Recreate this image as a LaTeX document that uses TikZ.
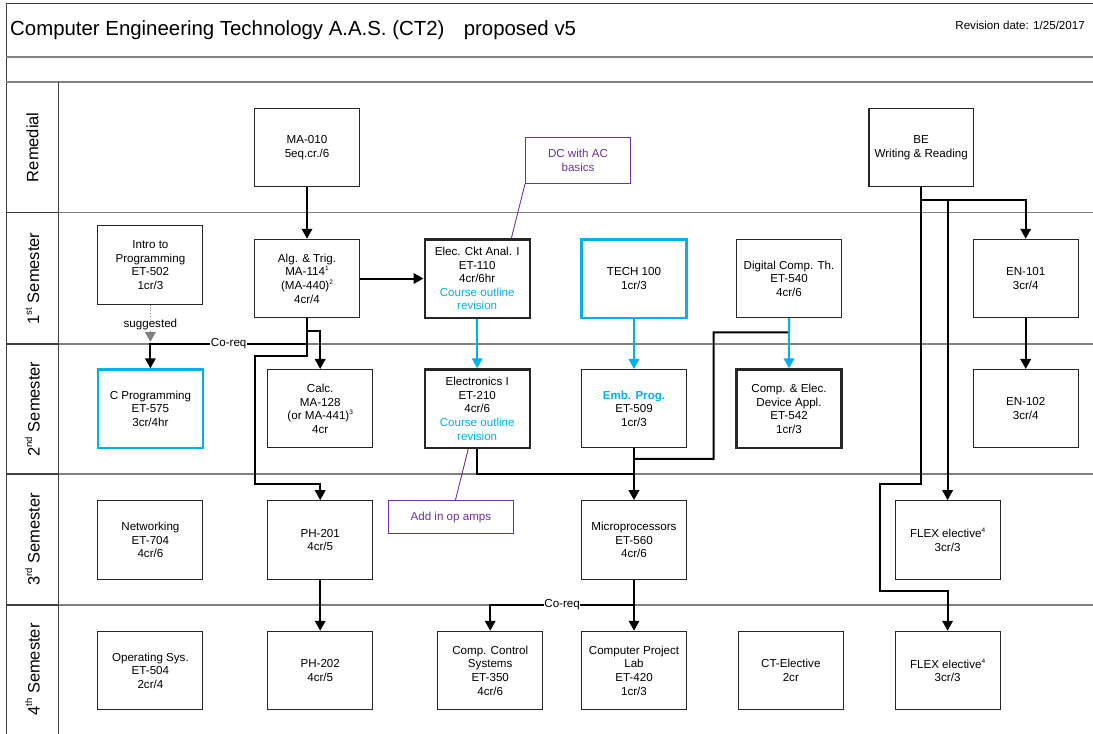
\documentclass[tikz,border=0pt]{standalone}
\usepackage{fontspec}
\setmainfont{Liberation Sans}
\usetikzlibrary{arrows.meta,calc}
\definecolor{cblue}{RGB}{0,176,240}
\definecolor{cpurple}{RGB}{112,48,160}
\definecolor{lanegray}{RGB}{128,128,128}
\newcommand\bxf{\fontsize{11.6}{13.6}\selectfont}
\newcommand\lanef{\fontsize{16.5}{18}\selectfont}
\newcommand\sups[1]{\raisebox{0.42em}{\fontsize{6.5}{7}\selectfont #1}}
\newcommand\lsups[1]{\raisebox{0.45em}{\fontsize{9.5}{10}\selectfont #1}}
\begin{document}
\begin{tikzpicture}[x=1pt,y=-1pt,
  box/.style={draw=black!85,line width=1.1pt,minimum width=105pt,minimum height=78.4pt,
    align=center,font=\bxf,inner sep=1pt},
  thickbox/.style={box,line width=2.4pt},
  bluebox/.style={box,draw=cblue,line width=2.4pt},
  notebox/.style={draw=cpurple,line width=0.9pt,text=cpurple,align=center,font=\bxf,inner sep=1pt},
  conn/.style={draw=black,line width=2pt,-{Triangle[width=10.5pt,length=10pt]}},
  bconn/.style={draw=cblue,line width=2pt,-{Triangle[width=10.5pt,length=10pt]}},
  plain/.style={draw=black,line width=2pt},
  coreqlbl/.style={fill=white,font=\bxf,inner sep=0.6pt},
  lanelbl/.style={rotate=90,font=\lanef},
  laneline/.style={draw=lanegray,line width=1.3pt},
  frameline/.style={draw=black!75,line width=1.2pt}
]
\useasboundingbox (0,0) rectangle (1093,734);
\fill[white] (0,0) rectangle (1093,734);

% ---------- frame / header ----------
\draw[frameline] (6.3,734) -- (6.3,3.3) -- (1093,3.3);
\draw[laneline,line width=2pt] (6.3,57) -- (1093,57);
\draw[laneline,line width=2pt] (6.3,81.7) -- (1093,81.7);
\draw[frameline] (58.6,81.7) -- (58.6,734);
\foreach \yy in {212.7,344,474,605}{
  \draw[frameline] (6.3,\yy) -- (58.6,\yy);
  \draw[laneline] (58.6,\yy) -- (1093,\yy);
}
\node[anchor=west,font=\fontsize{20.4}{22}\selectfont,inner sep=0pt] (title) at (10,30)
  {Computer Engineering Technology A.A.S. (CT2)\hspace{0.95em}proposed v5};
\node[anchor=east,font=\bxf,inner sep=0pt] (rev) at (1085,25.5) {Revision date: 1/25/2017};

% ---------- lane labels ----------
\node[lanelbl] (lrem) at (32.5,147.2) {Remedial};
\node[lanelbl] (l1) at (32.5,278.4) {1\lsups{st} Semester};
\node[lanelbl] (l2) at (32.5,409) {2\lsups{nd} Semester};
\node[lanelbl] (l3) at (32.5,539.5) {3\lsups{rd} Semester};
\node[lanelbl] (l4) at (32.5,669.5) {4\lsups{th} Semester};

% ---------- Remedial ----------
\node[box] (ma010) at (307,147.5) {MA-010\\5eq.cr./6};
\node[box,minimum width=104.5pt] (be) at (921.2,147.5) {BE\\Writing \& Reading};
\node[notebox,minimum width=105pt,minimum height=46pt] (dc) at (578,160.3) {DC with AC\\basics};

% ---------- 1st semester ----------
\node[box] (intro) at (150.4,265) {Intro to\\Programming\\ET-502\\1cr/3};
\node[box] (alg) at (307,278.5) {Alg. \& Trig.\\MA-114\sups{1}\\(MA-440)\sups{2}\\4cr/4};
\node[thickbox] (elec) at (477.2,278.5) {Elec. Ckt Anal. I\\ET-110\\4cr/6hr\\\textcolor{cblue}{Course outline}\\\textcolor{cblue}{revision}};
\node[bluebox] (tech) at (634,278.5) {TECH 100\\1cr/3};
\node[box] (dig) at (789,278.5) {Digital Comp. Th.\\ET-540\\4cr/6};
\node[box] (en101) at (1025.7,278.5) {EN-101\\3cr/4};

% ---------- 2nd semester ----------
\node[bluebox] (cprog) at (150.4,408.7) {C Programming\\ET-575\\3cr/4hr};
\node[box] (calc) at (320.2,408.7) {Calc.\\MA-128\\(or MA-441)\sups{3}\\4cr};
\node[thickbox] (elecI) at (477.2,408.7) {Electronics I\\ET-210\\4cr/6\\\textcolor{cblue}{Course outline}\\\textcolor{cblue}{revision}};
\node[box] (emb) at (634,408.7) {\textcolor{cblue}{\bfseries Emb. Prog.}\\ET-509\\1cr/3};
\node[thickbox] (cea) at (789,408.7) {Comp. \& Elec.\\Device Appl.\\ET-542\\1cr/3};
\node[box] (en102) at (1025.7,408.7) {EN-102\\3cr/4};

% ---------- 3rd semester ----------
\node[box] (net) at (150.4,539.9) {Networking\\ET-704\\4cr/6};
\node[box] (ph201) at (320.2,539.9) {PH-201\\4cr/5};
\node[notebox,minimum width=125pt,minimum height=32.6pt] (opamps) at (450.9,517) {Add in op amps};
\node[box] (micro) at (634,539.9) {Microprocessors\\ET-560\\4cr/6};
\node[box] (flex3) at (947.6,539.9) {FLEX elective\sups{4}\\3cr/3};

% ---------- 4th semester ----------
\node[box] (os) at (150.4,670.5) {Operating Sys.\\ET-504\\2cr/4};
\node[box] (ph202) at (320.2,670.5) {PH-202\\4cr/5};
\node[box] (ccs) at (490.2,670.5) {Comp. Control\\Systems\\ET-350\\4cr/6};
\node[box] (cpl) at (634,670.5) {Computer Project\\Lab\\ET-420\\1cr/3};
\node[box] (cte) at (790.8,670.5) {CT-Elective\\2cr};
\node[box] (flex4) at (947.6,670.5) {FLEX elective\sups{4}\\3cr/3};

% ---------- suggested ----------
\node[font=\bxf,inner sep=1pt] (sugg) at (150.4,324) {suggested};
\draw[gray,line width=0.8pt,dotted] (intro.south) -- (sugg.north);
\coordinate (sugtip) at (150.4,341.7);
\draw[draw=gray,line width=1.2pt,-{Triangle[width=10.5pt,length=9.5pt]}] (sugg.south) -- (sugtip);

% ---------- connectors ----------
\draw[conn] (ma010) -- (alg);
\draw[conn] (alg) -- (elec);
\draw[conn] (alg.south) -- ++(0,12.4) -| (calc.north);
\draw[conn] (alg.south) -- ++(0,37.5) -- ++(-52,0) |- ($(ph201.north)+(0,-15.7)$) -- (ph201.north);
\draw[conn] (alg.south |- 0,344) -- node[coreqlbl]{Co-req} (cprog.north |- 0,344) -- (cprog.north);

\draw[plain] (dig.south) -- ++(0,14) -- ++(-75.3,0) -- ++(0,126.5) -- (emb.south |- 0,458.9);
\draw[bconn] (elec) -- (elecI);
\draw[bconn] (tech) -- (emb);
\draw[bconn] (dig) -- (cea);

\draw[plain] (elecI.south) |- (emb.south |- 0,474);
\draw[conn] (emb) -- (micro);
\draw[conn] (micro) -- (cpl);
\draw[conn] (micro.south |- 0,605) -- node[coreqlbl]{Co-req} (ccs.north |- 0,605) -- (ccs.north);
\draw[conn] (ph201) -- (ph202);

\draw[conn] (be.south) -- ++(0,12.3) -| (en101.north);
\draw[conn] (be.south) -- ++(0,12.3) -| (flex3.north);
\draw[conn] (be.south) -- (be.south |- 0,484) -- ++(-40.8,0) |- ($(flex4.north)+(0,-39.7)$) -- (flex4.north);
\draw[conn] (en101) -- (en102);

% ---------- callouts ----------
\draw[cpurple,line width=0.9pt] (dc.south west) -- ($(elec.north east)+(-19.5,0)$);
\draw[cpurple,line width=0.9pt] ($(opamps.north)+(4.5,0)$) -- ($(elecI.south)+(-9,0)$);
\end{tikzpicture}
\end{document}
